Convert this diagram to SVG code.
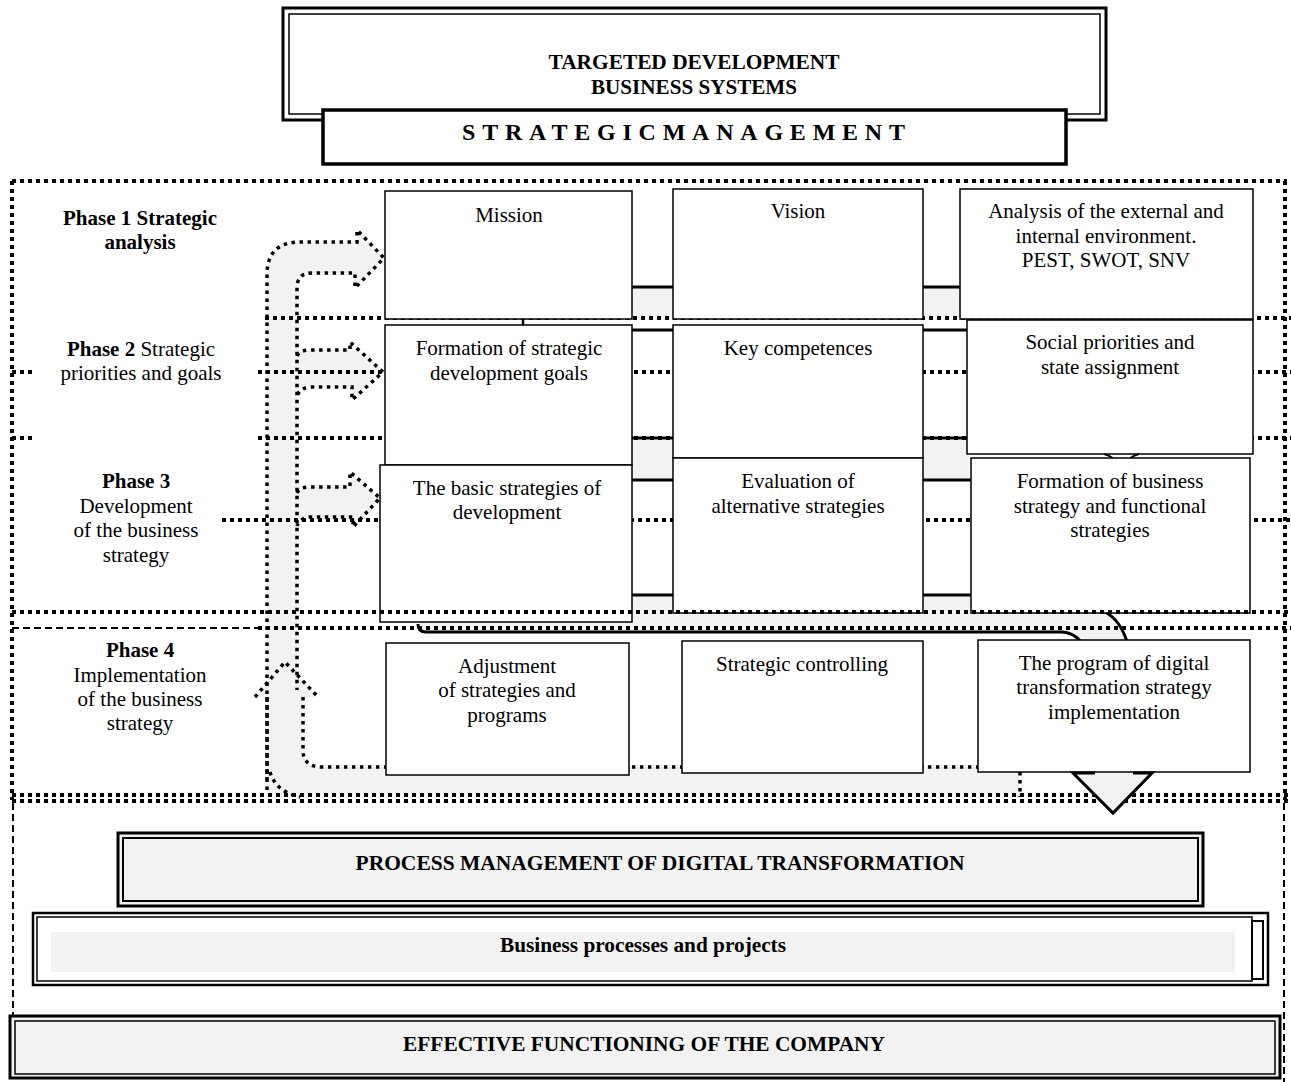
<svg xmlns="http://www.w3.org/2000/svg" width="1291" height="1082" viewBox="0 0 1291 1082">
<style>
.t{font-family:"Liberation Serif","Times New Roman",serif;font-size:21px;text-anchor:middle;fill:#000}
.b{font-weight:bold}
.box{fill:#fff;stroke:#000;stroke-width:1.5}
.g{fill:#f2f2f2}
.d{fill:none;stroke:#000;stroke-width:4;stroke-dasharray:4 4}
.da{fill:none;stroke:#000;stroke-width:3.5;stroke-dasharray:3.5 4.5}
.dash{fill:none;stroke:#000;stroke-width:2;stroke-dasharray:7 4}
.k{fill:none;stroke:#000;stroke-width:3}
</style>
<rect width="1291" height="1082" fill="#fff"/>

<g id="header">
<rect x="283" y="8" width="823" height="112" fill="#fff" stroke="#000" stroke-width="3"/>
<rect x="289" y="14" width="811" height="100" fill="none" stroke="#000" stroke-width="1.5"/>
<text class="t b" x="694" y="69" style="font-size:21px" textLength="291" lengthAdjust="spacingAndGlyphs">TARGETED DEVELOPMENT</text>
<text class="t b" x="694" y="94" style="font-size:21px" textLength="206" lengthAdjust="spacingAndGlyphs">BUSINESS SYSTEMS</text>
</g>
<g id="strategic-management">
<rect x="323" y="110" width="743" height="54" fill="#fff" stroke="#000" stroke-width="3.5"/>
<text class="t b" x="462" y="140" style="font-size:24px;text-anchor:start" textLength="443" lengthAdjust="spacing">STRATEGICMANAGEMENT</text>
</g>

<g id="connectors">
<rect class="g" x="632" y="288" width="41" height="31"/>
<rect class="g" x="923" y="288" width="37" height="31"/>
<rect class="g" x="632" y="440" width="41" height="39"/>
<rect class="g" x="923" y="440" width="46" height="39"/>
<rect class="g" x="632" y="596" width="41" height="18"/>
<rect class="g" x="923" y="596" width="48" height="18"/>
<path class="g" d="M418,612 L1105,612 Q1122,618 1128,645 L1128,772 L1090,772 L1090,650 Q1080,632 1062,632 L418,632 Z"/>
<path class="g" d="M267,797 L267,275 Q267,242 300,242 L357,242 L357,230 L384,258 L355,288 L355,273 L312,273 Q297,273 297,288 L297,697 L303,697 L303,750 Q303,767 320,767 L1020,767 L1020,797 Z"/>
<path class="g" d="M297,350 L350,350 L350,342 L383,372 L352,400 L352,387 L297,387 Z"/>
<path class="g" d="M297,487 L350,487 L350,472 L380,498 L353,527 L353,517 L297,517 Z"/>
<path class="g" d="M255,697 L285,662 L318,697 Z"/>

<line class="d" x1="12" y1="181" x2="1287" y2="181"/>
<line class="d" x1="12" y1="181" x2="12" y2="800"/>
<line class="d" x1="1285" y1="181" x2="1285" y2="800"/>

<line class="d" x1="265" y1="318" x2="1291" y2="318"/>
<line class="d" x1="12" y1="372" x2="32" y2="372"/>
<line class="d" x1="258" y1="372" x2="1291" y2="372"/>
<line class="d" x1="12" y1="438" x2="32" y2="438"/>
<line class="d" x1="258" y1="438" x2="1291" y2="438"/>
<line class="d" x1="222" y1="520" x2="1291" y2="520"/>

<path class="k" d="M632,287 H673 M923,287 H960 M632,330 H673 M923,330 H967 M632,438 H673 M923,438 H967 M632,480 H673 M923,480 H971 M632,595 H673 M923,595 H971"/>
<line x1="523" y1="319" x2="523" y2="326" stroke="#000" stroke-width="2.5"/>

<path class="k" d="M418,624 Q418,632 426,632 L1062,632 Q1078,633 1086,650"/>
<path class="k" d="M1105,612 Q1121,620 1128,645"/>

<path class="da" d="M267,790 L267,275 Q267,242 300,242 L357,242 L357,230 L384,258 L355,288 L355,273 L312,273 Q297,273 297,288 L297,690"/>
<path class="da" d="M297,356 Q300,350 310,350 L350,350 L350,342 L383,372 L352,400 L352,387 L310,387 Q300,388 297,396"/>
<path class="da" d="M297,493 Q300,487 310,487 L350,487 L350,472 L380,498 L353,527 L353,517 L310,517 Q300,518 297,526"/>
<path class="da" d="M255,697 L285,662 L318,697"/>
<path class="da" d="M267,697 L267,780 M303,697 L303,750 Q303,767 322,767 L1020,767 M270,772 Q276,792 300,797 M1020,772 L1020,797"/>
</g>

<g id="phase-labels">
<text class="t b" x="140" y="225">Phase 1 Strategic</text>
<text class="t b" x="140" y="249">analysis</text>
<text class="t" x="141" y="356"><tspan class="b">Phase 2</tspan> Strategic</text>
<text class="t" x="141" y="380">priorities and goals</text>
<text class="t b" x="136" y="488">Phase 3</text>
<text class="t" x="136" y="513">Development</text>
<text class="t" x="136" y="537">of the business</text>
<text class="t" x="136" y="562">strategy</text>
<text class="t b" x="140" y="657">Phase 4</text>
<text class="t" x="140" y="682">Implementation</text>
<text class="t" x="140" y="706">of the business</text>
<text class="t" x="140" y="730">strategy</text>
</g>

<g id="mission"><rect class="box" x="385" y="191" width="247" height="128"/><text class="t" x="509" y="222">Mission</text></g>
<g id="vision"><rect class="box" x="673" y="189" width="250" height="130"/><text class="t" x="798" y="218">Vision</text></g>
<g id="analysis"><rect class="box" x="960" y="189" width="293" height="130"/>
<text class="t" x="1106" y="218">Analysis of the external and</text>
<text class="t" x="1106" y="243">internal environment.</text>
<text class="t" x="1106" y="267">PEST, SWOT, SNV</text></g>

<g id="goals"><rect class="box" x="385" y="325" width="247" height="140"/>
<text class="t" x="509" y="355">Formation of strategic</text>
<text class="t" x="509" y="380">development goals</text></g>
<g id="competences"><rect class="box" x="673" y="325" width="250" height="133"/>
<text class="t" x="798" y="355">Key competences</text></g>
<g id="social"><rect class="box" x="967" y="320" width="286" height="134"/>
<text class="t" x="1110" y="349">Social priorities and</text>
<text class="t" x="1110" y="374">state assignment</text></g>
<path d="M1104,454 Q1111,456 1113,459 M1139,454 Q1132,456 1130,459" stroke="#000" stroke-width="2" fill="none"/>

<g id="basic"><rect class="box" x="380" y="465" width="252" height="157"/>
<text class="t" x="507" y="495">The basic strategies of</text>
<text class="t" x="507" y="519">development</text></g>
<g id="evaluation"><rect class="box" x="673" y="458" width="250" height="155"/>
<text class="t" x="798" y="488">Evaluation of</text>
<text class="t" x="798" y="513">alternative strategies</text></g>
<g id="business-strategy"><rect class="box" x="971" y="458" width="279" height="155"/>
<text class="t" x="1110" y="488">Formation of business</text>
<text class="t" x="1110" y="513">strategy and functional</text>
<text class="t" x="1110" y="537">strategies</text></g>

<g id="phase-lines">
<line class="d" x1="12" y1="612" x2="1291" y2="612"/>
<line class="dash" x1="12" y1="628" x2="258" y2="628"/>
<line class="d" x1="258" y1="628" x2="1291" y2="628"/>
<line class="d" x1="12" y1="795" x2="1291" y2="795"/>
<line class="d" x1="12" y1="801" x2="1291" y2="801"/>
<line class="dash" x1="13" y1="803" x2="13" y2="1016"/>
<line class="dash" x1="1284" y1="803" x2="1284" y2="1082"/>
</g>

<g id="adjustment"><rect class="box" x="386" y="643" width="243" height="132"/>
<text class="t" x="507" y="673">Adjustment</text>
<text class="t" x="507" y="697">of strategies and</text>
<text class="t" x="507" y="722">programs</text></g>
<g id="controlling"><rect class="box" x="682" y="641" width="241" height="132"/>
<text class="t" x="802" y="671">Strategic controlling</text></g>
<g id="program"><rect class="box" x="978" y="640" width="272" height="132"/>
<text class="t" x="1114" y="670">The program of digital</text>
<text class="t" x="1114" y="694">transformation strategy</text>
<text class="t" x="1114" y="719">implementation</text></g>
<path d="M1095,773 L1073,773 L1113,813 L1152,773 L1133,773" fill="#f2f2f2" stroke="#000" stroke-width="3" stroke-linejoin="miter"/>

<g id="process-management">
<rect x="118" y="833" width="1085" height="73" fill="#f2f2f2" stroke="#000" stroke-width="3"/>
<rect x="123" y="838" width="1075" height="63" fill="none" stroke="#000" stroke-width="2"/>
<text class="t b" x="660" y="870" style="font-size:21px" textLength="609" lengthAdjust="spacingAndGlyphs">PROCESS MANAGEMENT OF DIGITAL TRANSFORMATION</text>
</g>
<g id="business-processes">
<rect x="33" y="913" width="1235" height="72" fill="#fff" stroke="#000" stroke-width="2.5"/>
<rect x="37" y="917" width="1215" height="64" fill="#fff" stroke="#000" stroke-width="1.5"/>
<rect x="1252" y="921" width="11" height="58" fill="#fff" stroke="#000" stroke-width="2"/>
<rect x="51" y="932" width="1184" height="40" fill="#f2f2f2"/>
<text class="t b" x="643" y="952" style="font-size:20px" textLength="286" lengthAdjust="spacingAndGlyphs">Business processes and projects</text>
</g>
<g id="effective-functioning">
<rect x="10" y="1016" width="1270" height="62" fill="#f2f2f2" stroke="#000" stroke-width="3"/>
<rect x="15" y="1021" width="1260" height="53" fill="none" stroke="#000" stroke-width="1.5"/>
<text class="t b" x="644" y="1051" style="font-size:21px" textLength="482" lengthAdjust="spacingAndGlyphs">EFFECTIVE FUNCTIONING OF THE COMPANY</text>
</g>
</svg>
